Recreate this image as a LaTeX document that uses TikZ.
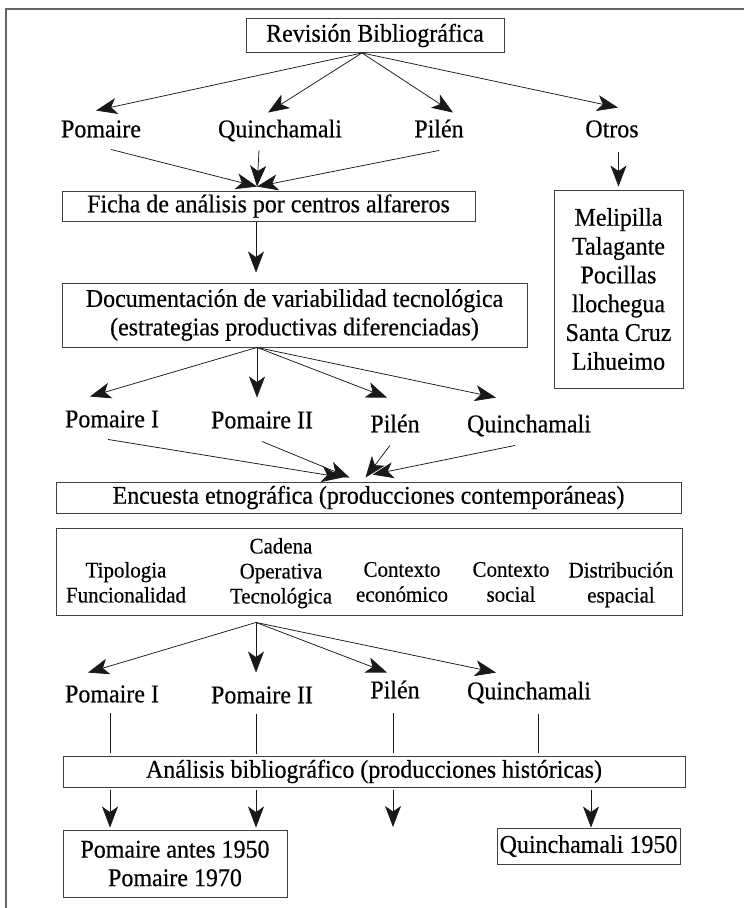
\documentclass[tikz,border=0pt]{standalone}
\usepackage{fontspec}
\setmainfont{Liberation Serif}[FakeStretch=0.94, FakeBold=0.4]
\usetikzlibrary{positioning,arrows.meta}

\begin{document}
\begin{tikzpicture}[x=1pt, y=-1pt, every node/.style={font=\fontsize{25.5}{28.5}\selectfont},
  box/.style={draw=black!75, line width=0.9pt, inner sep=0pt},
  lbl/.style={inner xsep=2pt, inner ysep=10pt, text height=16.5pt, text depth=5pt},
  cell/.style={font=\fontsize{22.3}{25}\selectfont, align=center, anchor=north, inner sep=0pt},
  arr/.style={draw=black!90, line width=0.75pt, -{Stealth[length=21pt,width=16pt,inset=5.5pt]}},
  link/.style={draw=black!90, line width=0.75pt}]
  \useasboundingbox (0,0) rectangle (744,908);
  \draw[black!60, line width=1.2pt] (744,9) -- (6,9) -- (6,908);

  % revision and first centres
  \node[box, minimum width=258pt, minimum height=34pt] (rev) at (375,35.5) {Revisión Bibliográfica};
  \node[lbl] (pom1) at (101,131.5) {Pomaire};
  \node[lbl] (qui1) at (280,131.5) {Quinchamali};
  \node[lbl] (pil1) at (439,131.5) {Pilén};
  \node[lbl] (otr) at (612,131.5) {Otros};
  \node[box, minimum width=413pt, minimum height=30pt] (fic) at (268.5,206) {Ficha de análisis por centros alfareros};
  \node[box, minimum width=129pt, minimum height=198pt, align=center, font=\fontsize{25.5}{28.8}\selectfont] (mel) at (618.5,289)
    {Melipilla\\Talagante\\Pocillas\\llochegua\\Santa Cruz\\Lihueimo};
  \node[box, minimum width=465pt, minimum height=64pt, align=center] (doc) at (294.5,315)
    {Documentación de variabilidad tecnológica\\(estrategias productivas diferenciadas)};

  \coordinate (revout) at ([xshift=-13pt]rev.south);
  \draw[arr] (revout) -- ([xshift=-5pt]pom1.north);
  \draw[arr] (revout) -- ([xshift=-12pt,yshift=-2pt]qui1.north);
  \draw[arr] (revout) -- ([xshift=14pt,yshift=-2pt]pil1.north);
  \draw[arr] (revout) -- ([xshift=6pt,yshift=3pt]otr.north);
  \coordinate (ficin) at ([xshift=-11.5pt,yshift=4pt]fic.north);
  \draw[arr] ([xshift=10pt,yshift=3pt]pom1.south) -- (ficin);
  \draw[arr] ([xshift=-21pt,yshift=2pt]qui1.south) -- (ficin);
  \draw[arr] ([yshift=2pt]pil1.south) -- (ficin);
  \draw[arr] (otr.south -| mel.north) -- ([yshift=3pt]mel.north);
  \draw[arr] ([xshift=-12.5pt]fic.south) -- ([xshift=-38.5pt,yshift=10pt]doc.north);

  % contemporary productions
  \node[lbl] (pomI2) at (112,421.5) {Pomaire I};
  \node[lbl] (pomII2) at (262,422.5) {Pomaire II};
  \node[lbl] (pil2) at (395,426.5) {Pilén};
  \node[lbl] (qui2) at (529,426.5) {Quinchamali};
  \node[box, minimum width=625pt, minimum height=31pt] (enc) at (368.5,497.5) {Encuesta etnográfica (producciones contemporáneas)};

  \coordinate (docout) at ([xshift=-37.5pt]doc.south);
  \draw[arr] (docout) -- ([xshift=-22pt,yshift=4pt]pomI2.north);
  \draw[arr] (docout) -- ([xshift=-5pt,yshift=4pt]pomII2.north);
  \draw[arr] (docout) -- ([xshift=-8pt,yshift=8pt]pil2.north);
  \draw[arr] (docout) -- ([xshift=-33pt,yshift=8pt]qui2.north);
  \draw[arr] ([xshift=-4pt,yshift=3pt]pomI2.south) -- ([xshift=-26pt,yshift=4pt]enc.north);
  \draw[arr] ([yshift=2pt]pomII2.south) -- ([xshift=-19pt,yshift=4pt]enc.north);
  \draw[arr] ([xshift=-5pt,yshift=2pt]pil2.south) -- ([xshift=-3pt,yshift=4pt]enc.north);
  \draw[arr] ([xshift=-14pt,yshift=2pt]qui2.south) -- ([xshift=4pt,yshift=7pt]enc.north);

  % survey table
  \node[box, minimum width=626pt, minimum height=87pt] (tab) at (369,571.5) {};
  \node[cell] (tip) at (126,561.8) {Tipologia\\Funcionalidad};
  \node[cell] (cad) at (281,537.8) {Cadena\\Operativa\\Tecnológica};
  \node[cell] (eco) at (402,561.8) {Contexto\\económico};
  \node[cell] (soc) at (511,561.8) {Contexto\\social};
  \node[cell] (esp) at (621,561.8) {Distribución\\espacial};

  \node[lbl] (pomI3) at (112,696.5) {Pomaire I};
  \node[lbl] (pomII3) at (262,697.5) {Pomaire II};
  \node[lbl] (pil3) at (395,692.5) {Pilén};
  \node[lbl] (qui3) at (529,693.5) {Quinchamali};

  \coordinate (tabout) at ([xshift=-113pt,yshift=-7pt]tab.south);
  \draw[arr] (tabout) -- ([xshift=-24pt,yshift=3pt]pomI3.north);
  \draw[arr] (tabout) -- ([xshift=-6pt,yshift=4pt]pomII3.north);
  \draw[arr] (tabout) -- ([xshift=-8pt,yshift=-1pt]pil3.north);
  \draw[arr] (tabout) -- ([xshift=-33pt]qui3.north);

  % historical productions
  \node[box, minimum width=622pt, minimum height=31pt] (ana) at (374,771.5) {Análisis bibliográfico (producciones históricas)};
  \node[box, minimum width=224pt, minimum height=67pt, align=center] (pbox) at (175,863.5) {Pomaire antes 1950\\Pomaire 1970};
  \node[box, minimum width=183pt, minimum height=36pt] (qbox) at (588.5,846) {Quinchamali 1950};
  \coordinate (pilend) at (393,827);

  \draw[link] ([xshift=-2pt,yshift=4pt]pomI3.south) -- ([xshift=-264pt,yshift=3pt]ana.north);
  \draw[link] ([xshift=-6pt,yshift=4pt]pomII3.south) -- ([xshift=-118pt,yshift=2pt]ana.north);
  \draw[link] ([xshift=-2pt]pil3.south) -- ([xshift=19pt,yshift=3pt]ana.north);
  \draw[link] ([xshift=9pt]qui3.south) -- ([xshift=164pt,yshift=3pt]ana.north);
  \draw[arr] ([xshift=-264pt,yshift=-3pt]ana.south) -- ([xshift=-65pt,yshift=2pt]pbox.north);
  \draw[arr] ([xshift=-118pt,yshift=-3pt]ana.south) -- ([xshift=81pt,yshift=2pt]pbox.north);
  \draw[arr] ([xshift=19pt,yshift=-3pt]ana.south) -- (pilend);
  \draw[arr] ([xshift=217pt,yshift=-3pt]ana.south) -- ([xshift=2.5pt]qbox.north);
\end{tikzpicture}
\end{document}
